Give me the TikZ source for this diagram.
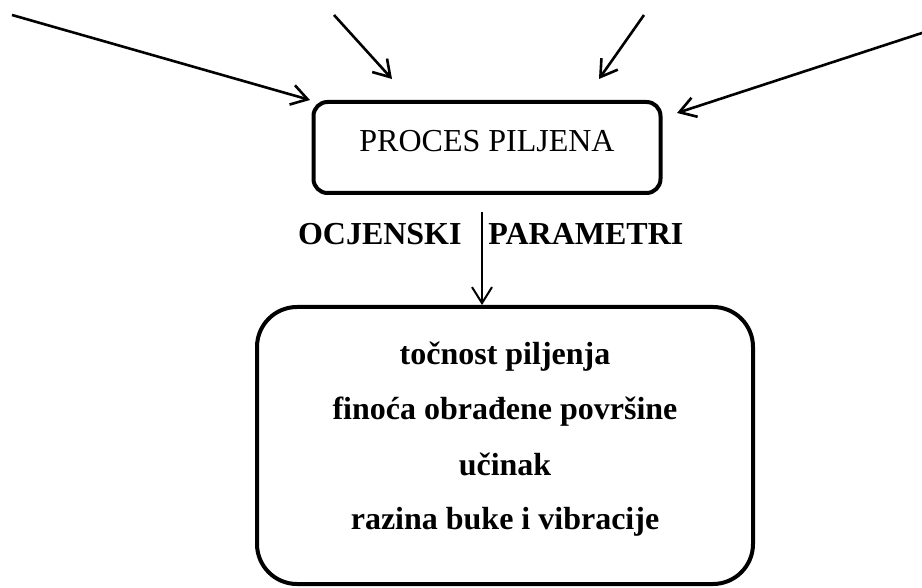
\documentclass[tikz,border=0pt]{standalone}
\usepackage{fontspec}
\setmainfont{Liberation Serif}
\usetikzlibrary{arrows.meta}

\begin{document}
\begin{tikzpicture}[x=0.5pt,y=-0.5pt,>={Straight Barb[length=8pt,width=10pt]},
  procbox/.style={draw,line width=2pt,rounded corners=7pt,minimum width=173.5pt,minimum height=45.5pt,
    font=\fontsize{16}{19}\selectfont,text height=11pt,text depth=6.5pt},
  resbox/.style={draw,line width=2pt,rounded corners=20pt,minimum width=248pt,minimum height=138.5pt},
  boldtext/.style={font=\fontsize{16}{19}\selectfont\bfseries,inner sep=0pt},
  inarrow/.style={->,line width=1.3pt}]
\useasboundingbox (0,0) rectangle (922,588);
\node[procbox] (proc) at (487,147.5) {PROCES PILJENA};
\node[resbox] (res) at (505,445.5) {};
\node[boldtext,anchor=base east] (ocj) at (462,245) {OCJENSKI};
\node[boldtext,anchor=base west] (par) at (488,245) {PARAMETRI};
\foreach \t [count=\i] in {točnost piljenja, finoća obrađene površine, učinak, razina buke i vibracije}
  { \node[boldtext,anchor=base] (p\i) at (505,365+55*\i-55) {\t}; };
% ulazni parametri
\foreach \a/\b/\c/\d [count=\i] in {12/15/310/100, 334/15/392/79, 644/15/599/79, 925/32/677/113}
  { \coordinate (s\i) at (\a,\b); \coordinate (e\i) at (\c,\d); \draw[inarrow] (s\i) -- (e\i); };
\coordinate (v) at (482,212);
\draw[->,line width=1pt] (v) -- (v |- res.north);
\end{tikzpicture}
\end{document}
